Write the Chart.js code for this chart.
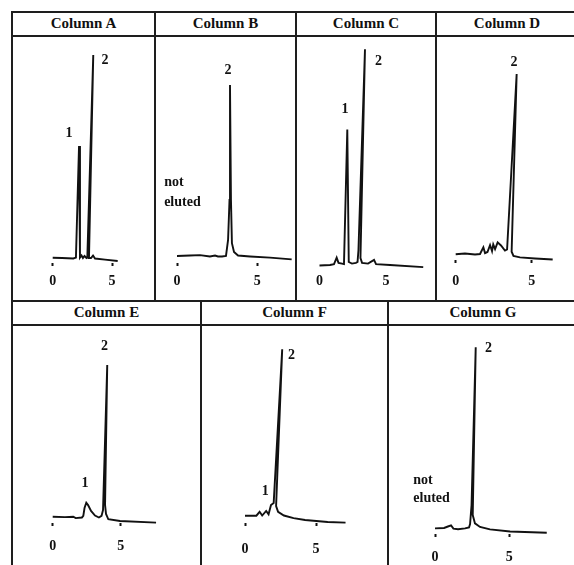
<!DOCTYPE html>
<html>
<head>
<meta charset="utf-8">
<script src="https://cdn.jsdelivr.net/npm/chart.js@4.4.0/dist/chart.umd.min.js"></script>
<style>
  html, body { margin: 0; padding: 0; background: #fff; }
  #page { position: relative; width: 574px; height: 565px; overflow: hidden; background: #fff; }
  .hl, .vl { position: absolute; background: #1e1e1e; }
  .head { position: absolute; text-align: center; font: bold 15px "Liberation Serif", "Times New Roman", serif; color: #111; }
  canvas { position: absolute; }
</style>
</head>
<body>
<div id="page"></div>
<script>
// retention time (min) and detector signal (relative units)
const timeA   = [0, 0.78, 1.74, 1.96, 2.22, 2.30, 2.43, 2.55, 2.68, 2.85, 2.92, 3.42, 3.06, 3.23, 3.40, 3.57, 4.41, 5.48];
const signalA = [2.3, 2.2, 2.0, 2.4, 51.8, 2.4, 3.3, 2.2, 3.1, 2.2, 2.4, 92.0, 2.2, 2.2, 3.3, 2.0, 1.5, 0.9];

const timeB   = [0, 0.81, 1.43, 2.05, 2.37, 2.55, 2.80, 3.05, 3.18, 3.27, 3.30, 3.36, 3.42, 3.55, 3.80, 4.55, 5.79, 7.14];
const signalB = [3.1, 3.3, 3.5, 2.9, 3.3, 2.9, 2.9, 3.1, 10.2, 27.9, 78.8, 27.9, 8.8, 4.9, 3.3, 2.9, 2.4, 1.6];

const timeC   = [0, 0.79, 1.09, 1.29, 1.43, 1.69, 1.84, 2.09, 2.20, 2.44, 2.74, 2.86, 2.93, 3.42, 3.08, 3.20, 3.65, 4.10, 4.25, 5.30, 7.80];
const signalC = [1.1, 1.3, 1.7, 4.5, 2.2, 1.9, 1.7, 60.0, 2.6, 1.9, 2.2, 2.6, 7.8, 94.7, 4.3, 2.2, 1.9, 3.5, 1.7, 1.3, 0.4];

const timeD   = [0, 0.61, 1.27, 1.60, 1.82, 1.93, 2.09, 2.26, 2.39, 2.47, 2.59, 2.76, 2.98, 3.24, 3.38, 4.01, 3.68, 3.80, 4.23, 5.22, 6.38];
const signalD = [2.6, 2.9, 2.5, 2.7, 5.7, 3.1, 3.6, 6.7, 4.0, 7.0, 4.9, 7.9, 6.5, 4.2, 4.7, 83.4, 3.7, 1.8, 1.2, 0.7, 0.2];

const timeE   = [0, 0.90, 1.51, 1.69, 2.15, 2.25, 2.34, 2.47, 2.60, 2.82, 3.11, 3.40, 3.59, 3.70, 4.01, 3.85, 3.92, 4.09, 4.95, 7.60];
const signalE = [3.2, 3.0, 3.2, 2.5, 2.8, 3.6, 7.6, 10.3, 9.1, 6.1, 3.8, 2.8, 3.6, 6.6, 80.2, 9.1, 4.6, 1.9, 1.0, 0.2];

const timeF   = [0, 0.80, 1.03, 1.21, 1.49, 1.66, 1.83, 2.02, 2.62, 2.19, 2.33, 2.74, 3.42, 4.23, 5.82, 7.08];
const signalF = [3.7, 3.7, 5.7, 3.8, 6.1, 4.4, 9.1, 10.2, 88.2, 8.6, 5.7, 3.8, 2.5, 1.5, 0.5, 0.2];

const timeG   = [0, 0.61, 0.87, 1.08, 1.24, 1.55, 2.02, 2.29, 2.36, 2.46, 2.74, 2.54, 2.69, 3.03, 3.70, 5.05, 7.52];
const signalG = [2.7, 2.9, 3.6, 4.1, 2.6, 2.3, 2.7, 3.1, 4.8, 13.9, 89.8, 9.1, 5.1, 3.4, 2.2, 1.2, 0.6];

const tickValues = [0, 5];

// peak annotations, in the same time / signal units
const labelsA = [{ t: 1.37, v: 57.5, text: "1" }, { t: 4.4, v: 89.8, text: "2" }];
const labelsB = [{ t: 3.18, v: 85.4, text: "2" }, { t: -0.8, v: 35.8, text: "not", left: true }, { t: -0.8, v: 27.0, text: "eluted", left: true }];
const labelsC = [{ t: 1.92, v: 68.7, text: "1" }, { t: 4.43, v: 89.3, text: "2" }];
const labelsD = [{ t: 3.84, v: 88.5, text: "2" }];
const labelsE = [{ t: 2.38, v: 20.2, text: "1" }, { t: 3.80, v: 89.5, text: "2" }];
const labelsF = [{ t: 1.42, v: 15.9, text: "1" }, { t: 3.27, v: 85.3, text: "2" }];
const labelsG = [{ t: 3.60, v: 89.3, text: "2" }, { t: -1.46, v: 26.0, text: "not", left: true }, { t: -1.46, v: 17.2, text: "eluted", left: true }];

const FONT = '"Liberation Serif", "Times New Roman", serif';
const page = document.getElementById("page");

// frame
function line(cls, x, y, w, h) {
  const d = document.createElement("div");
  d.className = cls;
  Object.assign(d.style, { left: x + "px", top: y + "px", width: w + "px", height: h + "px" });
  page.appendChild(d);
}
line("hl", 12, 11, 570, 2);
line("hl", 12, 35, 570, 2);
line("hl", 12, 300, 570, 2);
line("hl", 12, 324, 570, 2);
line("vl", 11, 11, 2, 560);
[155, 296, 436].forEach(x => line("vl", x - 1, 11, 2, 290));
[201, 388].forEach(x => line("vl", x - 1, 300, 2, 270));

const panels = [
  { title: "Column A", l: 12, r: 155, headTop: 12, bodyTop: 37, t: timeA, v: signalA, labels: labelsA, zero: 52.7, five: 112, axisTop: 263, labelY: 281.5, dots: true },
  { title: "Column B", l: 155, r: 296, headTop: 12, bodyTop: 37, t: timeB, v: signalB, labels: labelsB, zero: 177, five: 257.3, axisTop: 263, labelY: 281.5, dots: true },
  { title: "Column C", l: 296, r: 436, headTop: 12, bodyTop: 37, t: timeC, v: signalC, labels: labelsC, zero: 319.5, five: 386, axisTop: 268, labelY: 281.5, dots: false },
  { title: "Column D", l: 436, r: 578, headTop: 12, bodyTop: 37, t: timeD, v: signalD, labels: labelsD, zero: 455.7, five: 531.7, axisTop: 260, labelY: 281.5, dots: true },
  { title: "Column E", l: 12, r: 201, headTop: 301, bodyTop: 326, t: timeE, v: signalE, labels: labelsE, zero: 52.7, five: 120.7, axisTop: 523, labelY: 546, dots: true },
  { title: "Column F", l: 201, r: 388, headTop: 301, bodyTop: 326, t: timeF, v: signalF, labels: labelsF, zero: 245, five: 316, axisTop: 523, labelY: 549, dots: true },
  { title: "Column G", l: 388, r: 578, headTop: 301, bodyTop: 326, t: timeG, v: signalG, labels: labelsG, zero: 435, five: 509.3, axisTop: 534, labelY: 557, dots: true }
];

const peakLabels = {
  id: "peakLabels",
  afterDatasetsDraw(chart, args, opts) {
    const { ctx, scales } = chart;
    ctx.save();
    ctx.fillStyle = "#111";
    ctx.font = "bold 14px " + FONT;
    ctx.textBaseline = "middle";
    opts.items.forEach(it => {
      ctx.textAlign = it.left ? "left" : "center";
      ctx.fillText(it.text, scales.x.getPixelForValue(it.t), scales.y.getPixelForValue(it.v));
    });
    ctx.restore();
  }
};

const TL = 3, FS = 14, LH = FS * 1.2;

panels.forEach(p => {
  const h = document.createElement("div");
  h.className = "head";
  h.textContent = p.title;
  Object.assign(h.style, { left: p.l + "px", width: (p.r - p.l) + "px", top: (p.headTop + 3) + "px" });
  page.appendChild(h);

  const left = Math.round(p.l + 1);
  const width = Math.min(574, Math.round(p.r - 1)) - left;
  const pad = p.labelY - p.axisTop - TL - LH / 2;
  const exact = p.axisTop - p.bodyTop + TL + 2 * pad + LH;
  const height = Math.ceil(exact);

  const cv = document.createElement("canvas");
  cv.width = width;
  cv.height = height;
  Object.assign(cv.style, { left: left + "px", top: p.bodyTop + "px", width: width + "px", height: height + "px" });
  page.appendChild(cv);

  const ppm = (p.five - p.zero) / 5;
  const xmin = -(p.zero - left) / ppm;
  const xmax = xmin + width / ppm;

  new Chart(cv.getContext("2d"), {
    type: "line",
    data: {
      datasets: [{
        data: p.t.map((t, i) => ({ x: t, y: p.v[i] })),
        borderColor: "#111",
        borderWidth: 1.9,
        pointRadius: 0,
        tension: 0,
        fill: false,
        clip: 6
      }]
    },
    options: {
      responsive: false,
      animation: false,
      events: [],
      layout: { padding: { left: 0, right: 0, top: 0, bottom: height - exact } },
      plugins: { legend: { display: false }, tooltip: { enabled: false }, peakLabels: { items: p.labels } },
      scales: {
        x: {
          type: "linear",
          min: xmin,
          max: xmax,
          afterBuildTicks: axis => { axis.ticks = tickValues.map(v => ({ value: v })); },
          border: { display: false },
          grid: { display: true, drawOnChartArea: false, drawTicks: true, tickLength: TL, tickWidth: 2, tickColor: p.dots ? "#111" : "rgba(0,0,0,0)" },
          ticks: { padding: pad, color: "#111", font: { family: FONT, size: FS, weight: "bold" }, maxRotation: 0, autoSkip: false }
        },
        y: { display: false, min: 0, max: 100 }
      }
    },
    plugins: [peakLabels]
  });
});
</script>
</body>
</html>
